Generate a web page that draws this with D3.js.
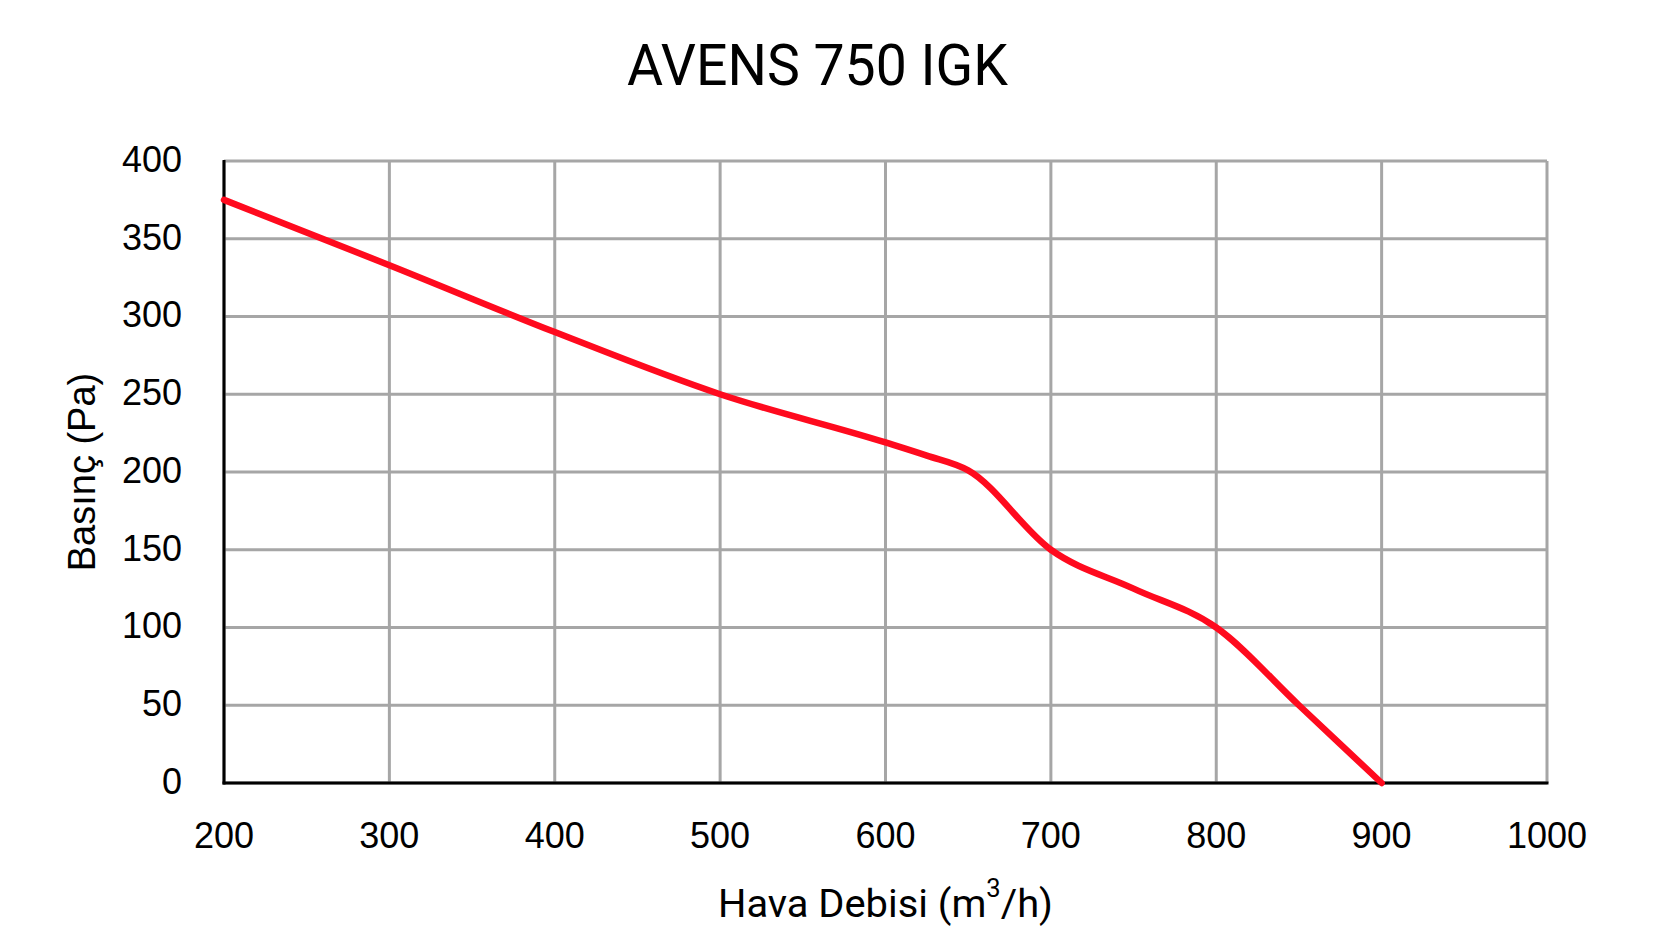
<!DOCTYPE html>
<html>
<head>
<meta charset="utf-8">
<script src="https://cdn.jsdelivr.net/npm/d3@7"></script>
<style>
  html, body { margin: 0; padding: 0; background: #ffffff; }
  svg { display: block; }
</style>
</head>
<body>
<svg id="chart" width="1658" height="946"></svg>
<script>
// ---- data ----
const flow = [200, 300, 400, 500, 600, 625, 650, 700, 750, 800, 850, 900];       // m3/h
const pressure = [375, 333, 290, 250, 219, 210.5, 201, 150, 125, 100, 50, 0];    // Pa
const xTicks = [200, 300, 400, 500, 600, 700, 800, 900, 1000];
const yTicks = [0, 50, 100, 150, 200, 250, 300, 350, 400];
const titleText = "AVENS 750 IGK";
const xTitle = "Hava Debisi (m";
const xTitleSup = "3";
const xTitleEnd = "/h)";
const yTitle = "Basınç (Pa)";

(function () {
  // ---- layout ----
  const W = 1658, H = 946;
  const pLeft = 224, pRight = 1547, pTop = 161, pBottom = 783;

  const svg = d3.select("#chart");
  svg.append("rect").attr("width", W).attr("height", H).attr("fill", "#ffffff");

  const x = d3.scaleLinear().domain([200, 1000]).range([pLeft, pRight]);
  const y = d3.scaleLinear().domain([0, 400]).range([pBottom, pTop]);

  const grid = svg.append("g").attr("stroke", "#a6a6a6").attr("stroke-width", 3);
  grid.selectAll("line.v").data(xTicks).join("line")
    .attr("class", "v")
    .attr("x1", d => x(d)).attr("x2", d => x(d))
    .attr("y1", y(400)).attr("y2", y(0));
  grid.selectAll("line.h").data(yTicks).join("line")
    .attr("class", "h")
    .attr("x1", x(200)).attr("x2", x(1000))
    .attr("y1", d => y(d)).attr("y2", d => y(d));

  // axes lines (black)
  svg.append("line").attr("x1", x(200)).attr("x2", x(200))
    .attr("y1", y(400) - 1).attr("y2", y(0) + 1.5)
    .attr("stroke", "#000").attr("stroke-width", 3);
  svg.append("line").attr("x1", x(200) - 1.5).attr("x2", x(1000) + 1.5)
    .attr("y1", y(0)).attr("y2", y(0))
    .attr("stroke", "#000").attr("stroke-width", 3);

  // tick labels
  const tickFont = "'Liberation Sans', Arial, sans-serif";
  svg.append("g").selectAll("text").data(yTicks).join("text")
    .attr("x", 182).attr("y", d => y(d)).attr("dy", "0.30em")
    .attr("text-anchor", "end")
    .attr("font-family", tickFont).attr("font-size", 36).attr("fill", "#000")
    .text(d => d);
  svg.append("g").selectAll("text").data(xTicks).join("text")
    .attr("x", d => x(d)).attr("y", 848)
    .attr("text-anchor", "middle")
    .attr("font-family", tickFont).attr("font-size", 36).attr("fill", "#000")
    .text(d => d);

  // curve (smoothed line through the data points)
  const line = d3.line()
    .x((d, i) => x(flow[i]))
    .y((d, i) => y(pressure[i]))
    .curve(d3.curveMonotoneX);
  svg.append("path").datum(flow)
    .attr("d", line)
    .attr("fill", "none")
    .attr("stroke", "#ff0a1e")
    .attr("stroke-width", 6.5)
    .attr("stroke-linecap", "round")
    .attr("stroke-linejoin", "round");

  // title
  svg.append("text")
    .attr("x", 817.5).attr("y", 85)
    .attr("text-anchor", "middle")
    .attr("font-family", "Roboto, 'Liberation Sans', sans-serif")
    .attr("font-size", 57).attr("fill", "#000")
    .attr("textLength", 381).attr("lengthAdjust", "spacingAndGlyphs")
    .text(titleText);

  // x axis title
  const xt = svg.append("text")
    .attr("x", (pLeft + pRight) / 2).attr("y", 917)
    .attr("text-anchor", "middle")
    .attr("font-family", "Roboto, 'Liberation Sans', sans-serif")
    .attr("font-size", 39).attr("fill", "#000")
    .attr("textLength", 335).attr("lengthAdjust", "spacingAndGlyphs");
  xt.append("tspan").text(xTitle);
  xt.append("tspan").attr("font-size", 25).attr("dy", -20).text(xTitleSup);
  xt.append("tspan").attr("dy", 20).text(xTitleEnd);

  // y axis title
  svg.append("text")
    .attr("transform", `translate(95, ${(pTop + pBottom) / 2}) rotate(-90)`)
    .attr("text-anchor", "middle")
    .attr("font-family", tickFont)
    .attr("font-size", 38).attr("fill", "#000")
    .text(yTitle);
})();
</script>
</body>
</html>
